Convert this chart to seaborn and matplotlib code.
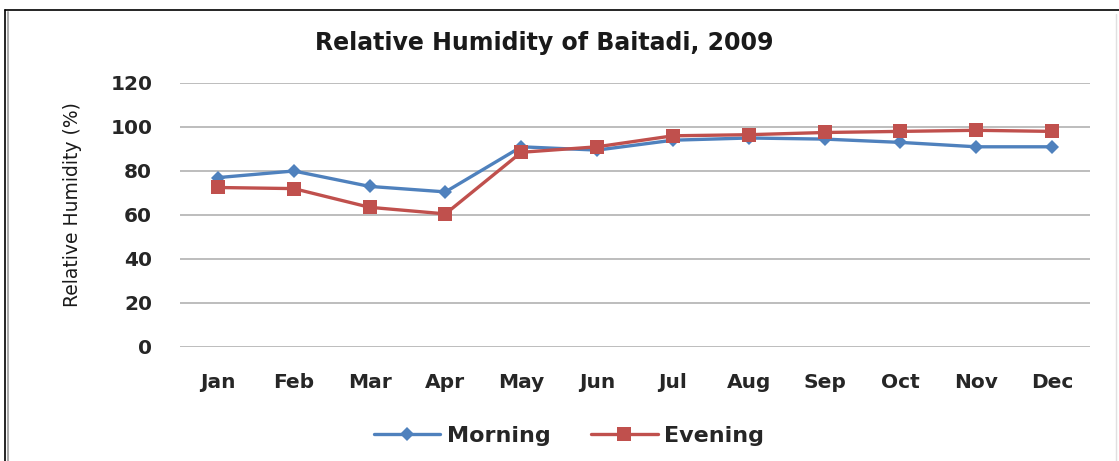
import pandas as pd
import matplotlib
matplotlib.use("Agg")
import matplotlib.pyplot as plt
from matplotlib.lines import Line2D
import seaborn as sns

months = ['Jan', 'Feb', 'Mar', 'Apr', 'May', 'Jun', 'Jul', 'Aug', 'Sep', 'Oct', 'Nov', 'Dec']
morning = [77, 80, 73, 70.5, 91, 89.5, 94, 95, 94.5, 93, 91, 91]
evening = [72.5, 72, 63.5, 60.5, 88.5, 91, 96, 96.5, 97.5, 98, 98.5, 98]
series_names = ['Morning', 'Evening']

df = pd.DataFrame({
    'Month': months * 2,
    'Value': morning + evening,
    'Series': [series_names[0]] * len(months) + [series_names[1]] * len(months),
})
df['x'] = df['Month'].map({m: i for i, m in enumerate(months)})

sns.set_style("white")
plt.rcParams['font.family'] = ['DejaVu Sans']

fig = plt.figure(figsize=(11.19, 4.61), dpi=100)
ax = fig.add_axes([180 / 1119, 1 - 347 / 461, 910 / 1119, 264 / 461])

palette = {'Morning': '#4F81BD', 'Evening': '#C0504D'}
markers = {'Morning': 'D', 'Evening': 's'}
sns.lineplot(data=df, x='x', y='Value', hue='Series', style='Series',
             palette=palette, markers=markers, dashes=False, linewidth=2.4,
             markersize=9, markeredgewidth=0, ax=ax, legend=False)
for line, name in zip(ax.lines, series_names):
    line.set_markersize(7 if name == 'Morning' else 10)

ax.set_xlim(-0.5, len(months) - 0.5)
ax.set_ylim(0, 120)
ax.set_yticks(range(0, 121, 20))
ax.set_xticks(range(len(months)))
ax.set_xticklabels(months)
ax.set_xlabel('')
ax.set_ylabel('')
ax.grid(axis='y', color='#BDBDBD', linewidth=1.4)
ax.set_axisbelow(True)
for s in ax.spines.values():
    s.set_visible(False)
ax.tick_params(axis='both', length=0, labelsize=14.5, labelcolor='#262626')
ax.tick_params(axis='y', pad=20)
ax.tick_params(axis='x', pad=19)
for lbl in ax.get_xticklabels() + ax.get_yticklabels():
    lbl.set_fontweight('bold')

fig.text(544 / 1119, 1 - 43 / 461, 'Relative Humidity of Baitadi, 2009',
         ha='center', va='center', fontsize=17, fontweight='bold', color='#1a1a1a')
fig.text(72 / 1119, 1 - 205 / 461, 'Relative Humidity (%)', rotation=90,
         ha='center', va='center', fontsize=13.5, color='#1a1a1a',
         family=['Liberation Sans Narrow', 'DejaVu Sans'])

handles = [Line2D([], [], color=palette[n], marker=markers[n], linewidth=2.4,
                  markersize=7 if n == 'Morning' else 10, markeredgewidth=0)
           for n in series_names]
leg = fig.legend(handles, series_names, loc='center', bbox_to_anchor=(569 / 1119, 1 - 436 / 461),
                 ncol=2, frameon=False, handlelength=3.0, columnspacing=1.8,
                 handletextpad=0.3, prop={'weight': 'bold', 'size': 16})
for t in leg.get_texts():
    t.set_color('#262626')

# outer chart frame
fig.add_artist(Line2D([5 / 1119, 1], [1 - 10 / 461, 1 - 10 / 461], transform=fig.transFigure,
                      color='black', linewidth=1.2))
fig.add_artist(Line2D([5 / 1119, 5 / 1119], [0, 1 - 10 / 461], transform=fig.transFigure,
                      color='black', linewidth=1.2))
fig.add_artist(Line2D([8 / 1119, 8 / 1119], [0, 1 - 12 / 461], transform=fig.transFigure,
                      color='#AAAAAA', linewidth=1.5))
fig.add_artist(Line2D([1116 / 1119, 1116 / 1119], [0, 1 - 14 / 461], transform=fig.transFigure,
                      color='#E0E0E0', linewidth=1.0))

plt.savefig('out.png', dpi=100)
plt.close()
